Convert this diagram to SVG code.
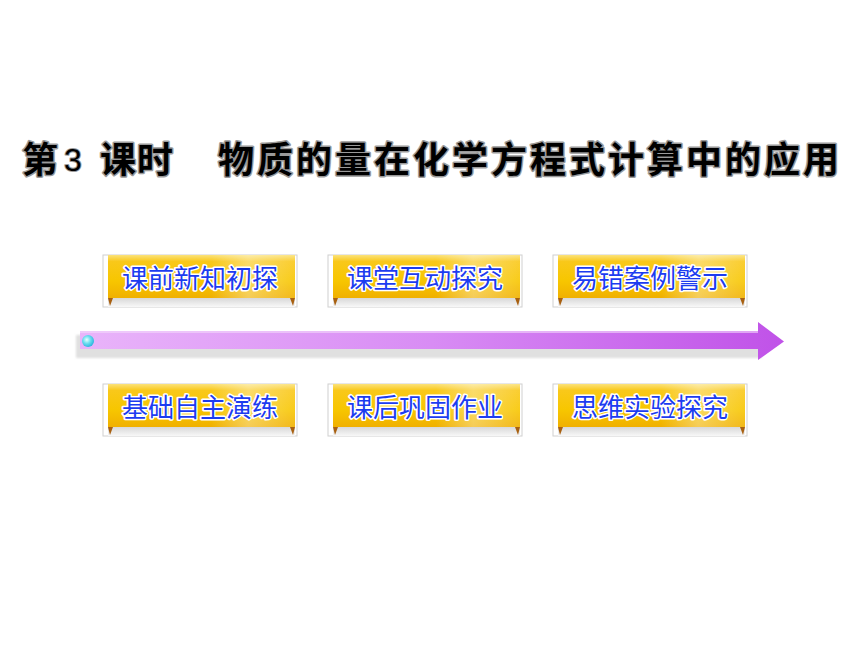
<svg xmlns="http://www.w3.org/2000/svg" width="860" height="645" viewBox="0 0 860 645">
<defs>
<linearGradient id="gold" x1="0" y1="0" x2="0" y2="1">
<stop offset="0" stop-color="#fbe27a"/>
<stop offset="0.15" stop-color="#f9c81a"/>
<stop offset="0.6" stop-color="#f7c600"/>
<stop offset="1" stop-color="#f0b000"/>
</linearGradient>
<linearGradient id="sheen" x1="0" y1="0" x2="1" y2="0">
<stop offset="0" stop-color="#fff" stop-opacity="0"/>
<stop offset="0.55" stop-color="#fff" stop-opacity="0"/>
<stop offset="0.75" stop-color="#fff" stop-opacity="0.35"/>
<stop offset="1" stop-color="#fff" stop-opacity="0.1"/>
</linearGradient>
<linearGradient id="band" x1="0" y1="0" x2="0" y2="1">
<stop offset="0" stop-color="#d8d8d8"/>
<stop offset="1" stop-color="#f8f8f8"/>
</linearGradient>
<linearGradient id="shaft" x1="0" y1="0" x2="1" y2="0">
<stop offset="0" stop-color="#e9b4fa"/>
<stop offset="0.5" stop-color="#d88cf4"/>
<stop offset="1" stop-color="#c052e8"/>
</linearGradient>
<radialGradient id="ball" cx="0.4" cy="0.4" r="0.6">
<stop offset="0" stop-color="#e8ffff"/>
<stop offset="0.5" stop-color="#70e0f0"/>
<stop offset="1" stop-color="#30b8e0"/>
</radialGradient>
<filter id="soft" x="-5%" y="-20%" width="110%" height="140%">
<feGaussianBlur stdDeviation="1.2"/>
</filter>
<g id="btn">
<rect x="0" y="0" width="194" height="52" fill="#fff" stroke="#d0d0d0" stroke-width="1"/>
<rect x="5" y="43" width="187" height="9" fill="url(#band)"/>
<path d="M5,0 H192 V43 H5 Z" fill="url(#gold)"/>
<path d="M5,0 H192 V43 H5 Z" fill="url(#sheen)"/>
<path d="M5,43 L10,43 L7,51 Z" fill="#a86010"/>
<path d="M192,43 L187,43 L190,51 Z" fill="#a86010"/>
</g>
</defs>
<style>
.title{font-family:"Noto Sans CJK SC","Liberation Sans",sans-serif;font-size:36px;font-weight:bold;fill:#000;stroke:#9a9a9a;stroke-width:3px;paint-order:stroke;stroke-linejoin:round}
.num{font-family:"Liberation Sans",sans-serif;font-weight:normal;font-size:32px;stroke-width:2px}
.lbl{font-family:"Noto Sans CJK SC",sans-serif;font-size:26px;fill:#1c3cf0;stroke:#ffffff;stroke-width:3px;paint-order:stroke;stroke-linejoin:round;text-anchor:middle}
</style>
<rect width="860" height="645" fill="#ffffff"/>
<text class="title" x="22" y="173">第</text>
<text class="title num" x="64" y="171">3</text>
<text class="title" x="100" y="173" letter-spacing="1">课时</text>
<text class="title" x="218" y="173" letter-spacing="3">物质的量在化学方程式计算中的应用</text>
<g id="connectors">
<g id="timeline-arrow">
<path d="M76,335 H762 V358 H76 Z" fill="#e0e0e0" filter="url(#soft)"/>
<path d="M80,331 H758 V322 L784,341.5 L758,360 V349 H80 Z" fill="url(#shaft)"/>
<path d="M80,331 H758 V333 H80 Z" fill="#f4d8fc" opacity="0.6"/>
<circle cx="88" cy="341" r="6" fill="url(#ball)"/>
</g>
</g>
<g id="node-kqxzct"><use href="#btn" x="103" y="255"/><text class="lbl" x="200" y="288">课前新知初探</text></g>
<g id="node-ktgdtj"><use href="#btn" x="328" y="255"/><text class="lbl" x="425" y="288">课堂互动探究</text></g>
<g id="node-ycalgs"><use href="#btn" x="553" y="255"/><text class="lbl" x="650" y="288">易错案例警示</text></g>
<g id="node-jczzyl"><use href="#btn" x="103" y="384"/><text class="lbl" x="200" y="417">基础自主演练</text></g>
<g id="node-khgjzy"><use href="#btn" x="328" y="384"/><text class="lbl" x="425" y="417">课后巩固作业</text></g>
<g id="node-swsytj"><use href="#btn" x="553" y="384"/><text class="lbl" x="650" y="417">思维实验探究</text></g>
</svg>
